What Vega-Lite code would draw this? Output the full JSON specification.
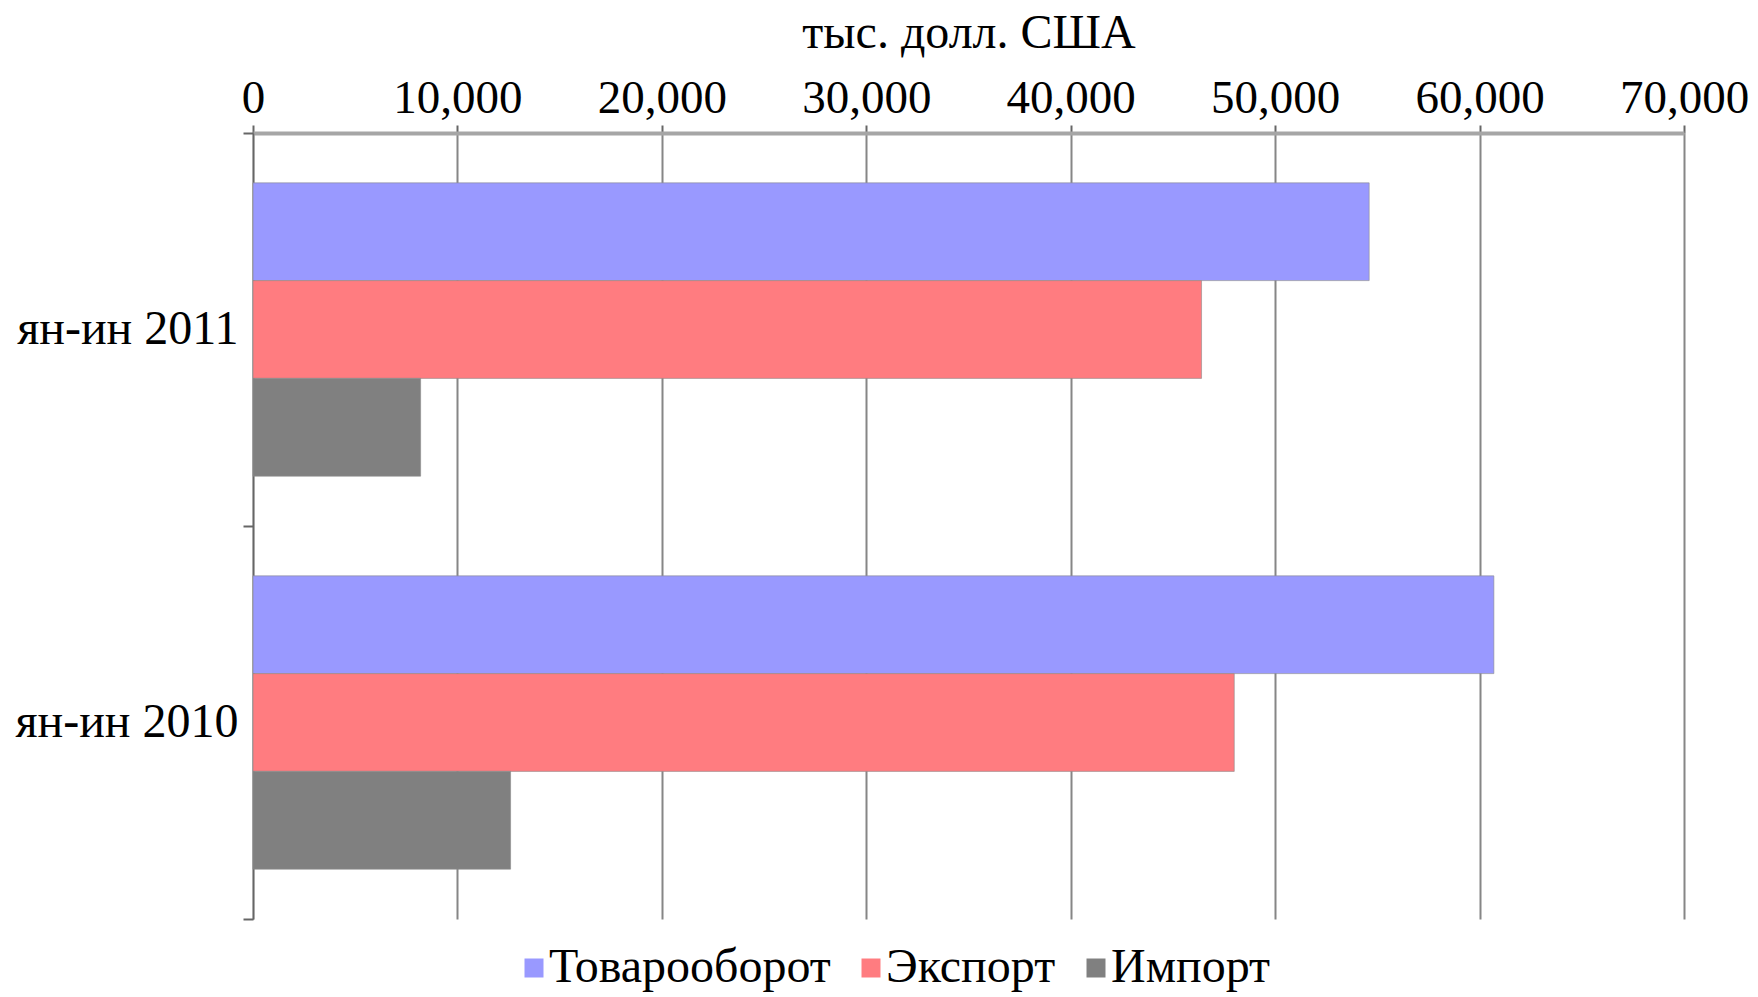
{
  "$schema": "https://vega.github.io/schema/vega-lite/v6.json",
  "width": 1431,
  "height": 786,
  "autosize": {"type": "none"},
  "padding": {"left": 253, "top": 133, "right": 74, "bottom": 78},
  "background": "white",
  "data": {
    "values": [
      {"period": "ян-ин 2011", "series": "Товарооборот", "value": 54600},
      {"period": "ян-ин 2011", "series": "Экспорт", "value": 46400},
      {"period": "ян-ин 2011", "series": "Импорт", "value": 8200},
      {"period": "ян-ин 2010", "series": "Товарооборот", "value": 60700},
      {"period": "ян-ин 2010", "series": "Экспорт", "value": 48000},
      {"period": "ян-ин 2010", "series": "Импорт", "value": 12600}
    ]
  },
  "mark": {"type": "bar", "stroke": "#8a8a8a", "strokeWidth": 1, "strokeOpacity": 0.6},
  "encoding": {
    "y": {
      "field": "period",
      "type": "nominal",
      "sort": ["ян-ин 2011", "ян-ин 2010"],
      "scale": {"paddingInner": 0, "paddingOuter": 0},
      "axis": {
        "title": null,
        "labelFont": "Liberation Serif",
        "labelFontSize": 48,
        "labelColor": "#000000",
        "labelLimit": 0,
        "labelPadding": 5,
        "tickBand": "extent",
        "tickSize": 10,
        "tickColor": "#666666",
        "tickWidth": 2,
        "domainColor": "#666666",
        "domainWidth": 1.5,
        "grid": false
      }
    },
    "yOffset": {
      "field": "series",
      "type": "nominal",
      "sort": ["Товарооборот", "Экспорт", "Импорт"],
      "scale": {"paddingInner": 0, "paddingOuter": 0.51}
    },
    "x": {
      "field": "value",
      "type": "quantitative",
      "scale": {"domain": [0, 70000], "nice": false},
      "axis": {
        "orient": "top",
        "title": "тыс. долл. США",
        "titleFont": "Liberation Serif",
        "titleFontSize": 48,
        "titleFontWeight": "normal",
        "titleColor": "#000000",
        "titlePadding": 17,
        "values": [0, 10000, 20000, 30000, 40000, 50000, 60000, 70000],
        "format": ",d",
        "labelFont": "Liberation Serif",
        "labelFontSize": 47,
        "labelColor": "#000000",
        "labelPadding": 3,
        "labelFlush": false,
        "tickSize": 8,
        "tickColor": "#666666",
        "tickWidth": 2,
        "domainColor": "#a6a6a6",
        "domainWidth": 4,
        "grid": true,
        "gridColor": "#868686",
        "gridWidth": 2
      }
    },
    "color": {
      "field": "series",
      "type": "nominal",
      "sort": ["Товарооборот", "Экспорт", "Импорт"],
      "scale": {
        "domain": ["Товарооборот", "Экспорт", "Импорт"],
        "range": ["#9999FF", "#FF7C80", "#808080"]
      },
      "legend": {
        "title": null,
        "orient": "none",
        "direction": "horizontal",
        "legendX": 257,
        "legendY": 811,
        "symbolType": "square",
        "symbolSize": 361,
        "symbolStrokeWidth": 0,
        "labelFont": "Liberation Serif",
        "labelFontSize": 48,
        "labelColor": "#000000",
        "labelOffset": -9,
        "columnPadding": 16,
        "labelLimit": 0
      }
    }
  },
  "config": {"view": {"stroke": null}}
}
